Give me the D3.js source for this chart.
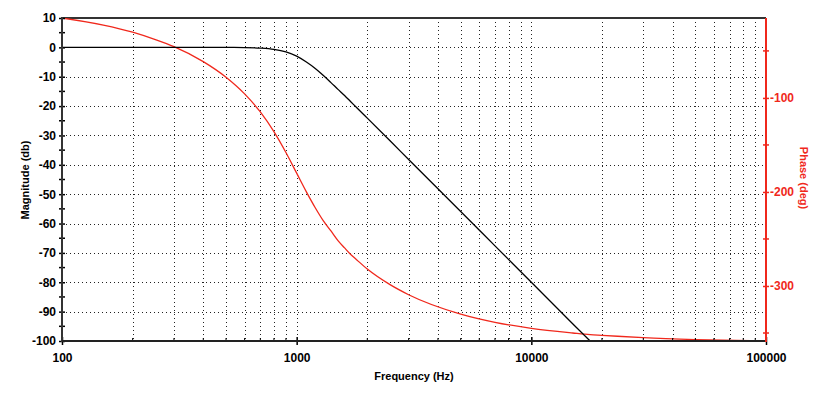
<!DOCTYPE html>
<html>
<head>
<meta charset="utf-8">
<script src="https://cdn.jsdelivr.net/npm/d3@7"></script>
<style>
  body { margin: 0; background: #fff; }
  text { font-family: "Liberation Sans", Arial, sans-serif; font-weight: bold; }
</style>
</head>
<body>
<div id="chart"></div>
<script>
// frequency response
var freqs = [100, 150, 200, 250, 300, 400, 500, 600, 700, 800, 900, 1000, 1100, 1200, 1300, 1400, 1500, 1600, 1700, 1800, 2000, 2500, 3000, 5000, 7000, 10000, 15000, 17800, 20000, 30000, 50000, 100000];
var magnitude = [0, 0, 0, 0, 0, 0, -0.02, -0.07, -0.24, -0.67, -1.55, -3.0, -5.0, -7.2, -9.6, -12.0, -14.3, -16.4, -18.5, -20.5, -24.1, -31.8, -38.2, -55.9, -67.6, -80, -94.1, -100, -104, -118, -136, -160];
var phase = [-15.0, -22.5, -30.1, -38.0, -45.5, -61.4, -78.0, -95.7, -114.9, -135.9, -158.1, -180, -199.9, -216.8, -230.8, -241.5, -251.7, -259.5, -266.5, -272, -282.0, -298.6, -309.3, -329.9, -338.6, -345.0, -350.0, -351.8, -352.5, -355.0, -357.0, -358.5];

var magTicks = [10, 0, -10, -20, -30, -40, -50, -60, -70, -80, -90, -100];
var magMinor = [5, -5, -15, -25, -35, -45, -55, -65, -75, -85, -95];
var phaseTicks = [-100, -200, -300];
var phaseMinor = [-50, -150, -250, -350];
var freqTicks = [100, 1000, 10000, 100000];
var freqMinor = [200, 300, 400, 500, 600, 700, 800, 900, 2000, 3000, 4000, 5000, 6000, 7000, 8000, 9000, 20000, 30000, 40000, 50000, 60000, 70000, 80000, 90000];

function init() {
  var w = 827, h = 393;
  var pLeft = 62, pRight = 766, pTop = 18, pBottom = 341;
  var red = "#f0281c";
  var plain = function(d) { return String(d); }; // keep ascii hyphen like the original

  var svg = d3.select("#chart").append("svg")
    .attr("width", w).attr("height", h);

  var x = d3.scaleLog().domain([100, 100000]).range([pLeft, pRight]);
  var yMag = d3.scaleLinear().domain([-100, 10]).range([pBottom, pTop]);
  var yPh = d3.scaleLinear().domain([-358.5, -15]).range([pBottom, pTop]);

  // dotted grid
  svg.append("g").selectAll("line")
    .data(freqMinor.concat([1000, 10000]))
    .enter().append("line")
    .attr("x1", d => Math.round(x(d)) + 0.5).attr("x2", d => Math.round(x(d)) + 0.5)
    .attr("y1", pTop).attr("y2", pBottom)
    .attr("stroke", "#222").attr("stroke-width", 1)
    .attr("stroke-dasharray", "1,3");

  svg.append("g").selectAll("line")
    .data(magTicks.filter(d => d < 10 && d > -100))
    .enter().append("line")
    .attr("x1", pLeft).attr("x2", pRight)
    .attr("y1", d => Math.round(yMag(d)) + 0.5).attr("y2", d => Math.round(yMag(d)) + 0.5)
    .attr("stroke", "#222").attr("stroke-width", 1)
    .attr("stroke-dasharray", "1,3");

  // top frame line
  svg.append("line")
    .attr("x1", pLeft).attr("x2", pRight).attr("y1", pTop).attr("y2", pTop)
    .attr("stroke", "#333").attr("stroke-width", 2);

  // curves
  svg.append("clipPath").attr("id", "plot")
    .append("rect").attr("x", pLeft).attr("y", pTop)
    .attr("width", pRight - pLeft).attr("height", pBottom - pTop);

  var magLine = d3.line().curve(d3.curveMonotoneX)
    .x((d, i) => x(freqs[i])).y(d => yMag(d));
  var phLine = d3.line().curve(d3.curveMonotoneX)
    .x((d, i) => x(freqs[i])).y(d => yPh(d));

  svg.append("path").datum(phase)
    .attr("clip-path", "url(#plot)")
    .attr("d", phLine).attr("fill", "none")
    .attr("stroke", red).attr("stroke-width", 1.3);

  svg.append("path").datum(magnitude)
    .attr("clip-path", "url(#plot)")
    .attr("d", magLine).attr("fill", "none")
    .attr("stroke", "#000").attr("stroke-width", 1.3);

  // axes
  function styleAxis(g, color) {
    g.select(".domain").remove();
    g.selectAll("text").attr("fill", color).style("font-size", "12px");
    g.selectAll(".tick line").attr("stroke", color).attr("stroke-width", 1.5);
  }

  var yAxis = svg.append("g")
    .attr("transform", "translate(" + pLeft + ",0)")
    .call(d3.axisLeft(yMag).tickValues(magTicks).tickSize(3).tickPadding(3).tickFormat(plain));
  styleAxis(yAxis, "#000");
  yAxis.selectAll(".tick line").attr("x2", 3).attr("x1", -3);
  svg.append("g").selectAll("line").data(magMinor).enter().append("line")
    .attr("x1", pLeft - 3).attr("x2", pLeft + 3)
    .attr("y1", d => yMag(d)).attr("y2", d => yMag(d))
    .attr("stroke", "#000").attr("stroke-width", 1.5);

  var xAxis = svg.append("g")
    .attr("transform", "translate(0," + pBottom + ")")
    .call(d3.axisBottom(x).tickValues(freqTicks).tickSize(4).tickPadding(8).tickFormat(plain));
  styleAxis(xAxis, "#000");
  xAxis.selectAll(".tick line").attr("y1", -4).attr("y2", 4);
  svg.append("g").selectAll("line").data(freqMinor).enter().append("line")
    .attr("x1", d => x(d)).attr("x2", d => x(d))
    .attr("y1", pBottom - 3).attr("y2", pBottom)
    .attr("stroke", "#000").attr("stroke-width", 1);

  var phAxis = svg.append("g")
    .attr("transform", "translate(" + pRight + ",0)")
    .call(d3.axisRight(yPh).tickValues(phaseTicks).tickSize(3).tickPadding(1).tickFormat(plain));
  styleAxis(phAxis, red);
  phAxis.selectAll(".tick line").attr("x1", -3).attr("x2", 3);
  svg.append("g").selectAll("line").data(phaseMinor).enter().append("line")
    .attr("x1", pRight - 3).attr("x2", pRight + 3)
    .attr("y1", d => yPh(d)).attr("y2", d => yPh(d))
    .attr("stroke", red).attr("stroke-width", 1.5);

  // axis lines
  svg.append("line").attr("x1", pLeft).attr("x2", pLeft).attr("y1", pTop - 1).attr("y2", pBottom + 1)
    .attr("stroke", "#333").attr("stroke-width", 2);
  svg.append("line").attr("x1", pLeft).attr("x2", pRight).attr("y1", pBottom).attr("y2", pBottom)
    .attr("stroke", "#222").attr("stroke-width", 2);
  svg.append("line").attr("x1", pRight).attr("x2", pRight).attr("y1", pTop).attr("y2", pBottom + 1)
    .attr("stroke", red).attr("stroke-width", 2);

  // titles
  svg.append("text")
    .attr("transform", "translate(29,180) rotate(-90)")
    .attr("text-anchor", "middle").style("font-size", "11px")
    .text("Magnitude (db)");

  svg.append("text")
    .attr("transform", "translate(800,178) rotate(90)")
    .attr("text-anchor", "middle").style("font-size", "11px")
    .attr("fill", red)
    .text("Phase (deg)");

  svg.append("text")
    .attr("x", 414).attr("y", 380)
    .attr("text-anchor", "middle").style("font-size", "11px")
    .text("Frequency (Hz)");
}

window.onload = init;
</script>
</body>
</html>
